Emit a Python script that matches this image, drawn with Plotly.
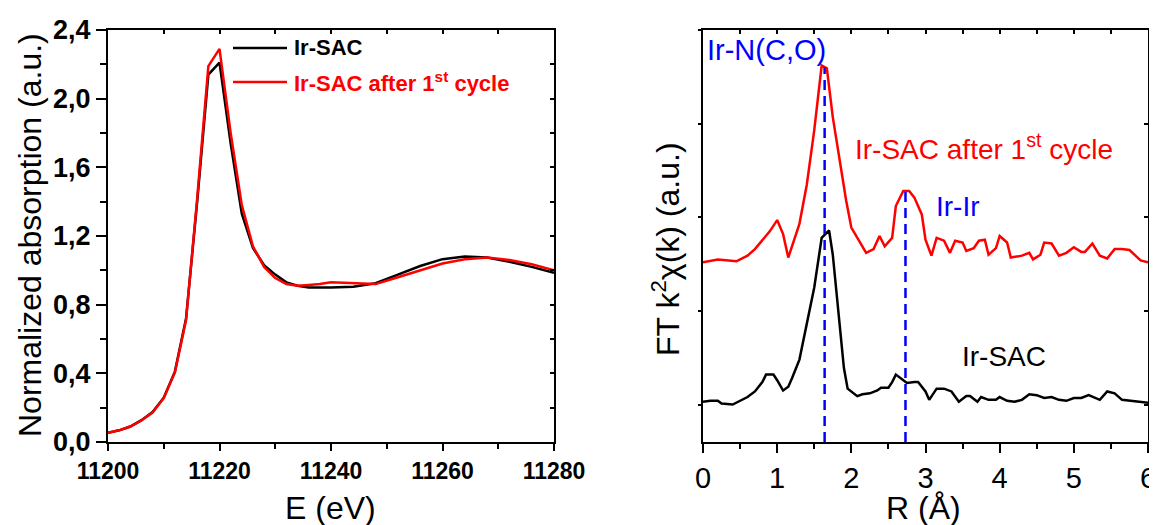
import numpy as np
import plotly.graph_objects as go

# ---------------- Data: XANES (left panel) ----------------
E_black = [11200, 11202, 11204, 11206, 11208, 11210, 11212, 11214, 11216, 11218, 11220,
           11222, 11224, 11226, 11228, 11230, 11232, 11234, 11236, 11240, 11244, 11248,
           11252, 11256, 11260, 11264, 11268, 11272, 11276, 11280]
mu_black = [0.053, 0.068, 0.090, 0.127, 0.175, 0.258, 0.410, 0.720, 1.400, 2.140, 2.210,
            1.740, 1.330, 1.130, 1.030, 0.975, 0.930, 0.910, 0.900, 0.900, 0.905, 0.925,
            0.975, 1.025, 1.065, 1.080, 1.075, 1.050, 1.020, 0.985]
E_red = [11200, 11202, 11204, 11206, 11208, 11210, 11212, 11214, 11216, 11218, 11220,
         11222, 11224, 11226, 11228, 11230, 11232, 11234, 11236, 11238, 11240, 11244,
         11248, 11252, 11256, 11260, 11264, 11268, 11272, 11276, 11280]
mu_red = [0.053, 0.068, 0.090, 0.125, 0.172, 0.255, 0.405, 0.710, 1.420, 2.190, 2.290,
          1.800, 1.380, 1.140, 1.020, 0.955, 0.920, 0.910, 0.915, 0.920, 0.930, 0.925,
          0.920, 0.960, 1.000, 1.040, 1.065, 1.075, 1.060, 1.035, 1.000]

left_xticks = [11200, 11220, 11240, 11260, 11280]
left_xticklabels = ["11200", "11220", "11240", "11260", "11280"]
left_yticks = [0.0, 0.4, 0.8, 1.2, 1.6, 2.0, 2.4]
left_yticklabels = ["0,0", "0,4", "0,8", "1,2", "1,6", "2,0", "2,4"]

# ---------------- Data: FT-EXAFS (right panel) ----------------
R_black = [0.0, 0.1, 0.2, 0.25, 0.4, 0.5, 0.6, 0.7, 0.8, 0.85, 0.95, 1.0, 1.08, 1.15, 1.2,
           1.3, 1.4, 1.5, 1.6, 1.65, 1.7, 1.75, 1.8, 1.85, 1.9, 1.95, 2.0, 2.08, 2.15, 2.25,
           2.35, 2.4, 2.5, 2.55, 2.6, 2.65, 2.75, 2.85, 2.9, 3.0, 3.05, 3.15, 3.25, 3.35,
           3.45, 3.55, 3.6, 3.7, 3.75, 3.85, 3.95, 4.0, 4.1, 4.2, 4.3, 4.4, 4.5, 4.6, 4.7,
           4.8, 4.9, 5.0, 5.1, 5.2, 5.3, 5.35, 5.45, 5.55, 5.65, 5.8, 5.9, 6.0]
ft_black = [0.03, 0.04, 0.04, 0.01, 0.00, 0.04, 0.08, 0.14, 0.24, 0.32, 0.32, 0.26, 0.15,
            0.19, 0.28, 0.48, 0.85, 1.25, 1.78, 1.82, 1.86, 1.60, 1.21, 0.75, 0.39, 0.17,
            0.14, 0.09, 0.11, 0.12, 0.15, 0.18, 0.18, 0.24, 0.32, 0.29, 0.23, 0.24, 0.24,
            0.14, 0.05, 0.17, 0.17, 0.14, 0.03, 0.09, 0.09, 0.03, 0.08, 0.05, 0.05, 0.08,
            0.04, 0.03, 0.05, 0.11, 0.10, 0.07, 0.08, 0.05, 0.04, 0.07, 0.07, 0.10, 0.07,
            0.05, 0.14, 0.12, 0.05, 0.04, 0.03, 0.02]
R_red = [0.0, 0.2, 0.45, 0.6, 0.7, 0.8, 0.9, 1.0, 1.08, 1.15, 1.25, 1.3, 1.4, 1.5, 1.6,
         1.67, 1.75, 1.85, 1.93, 2.0, 2.1, 2.2, 2.3, 2.38, 2.45, 2.55, 2.6, 2.7, 2.78, 2.85,
         2.95, 3.0, 3.08, 3.15, 3.25, 3.33, 3.4, 3.5, 3.55, 3.65, 3.72, 3.8, 3.85, 3.95,
         4.0, 4.1, 4.15, 4.3, 4.4, 4.45, 4.55, 4.6, 4.7, 4.8, 4.9, 5.0, 5.1, 5.15, 5.25,
         5.35, 5.45, 5.55, 5.65, 5.75, 5.9, 6.0]
ft_red = [1.52, 1.55, 1.53, 1.59, 1.66, 1.76, 1.85, 1.97, 1.82, 1.57, 1.82, 1.93, 2.35,
          2.93, 3.62, 3.59, 3.07, 2.57, 2.18, 1.89, 1.76, 1.62, 1.66, 1.80, 1.69, 1.78,
          2.12, 2.28, 2.28, 2.21, 2.03, 1.76, 1.59, 1.78, 1.75, 1.62, 1.75, 1.73, 1.64,
          1.67, 1.75, 1.76, 1.60, 1.67, 1.80, 1.73, 1.57, 1.59, 1.62, 1.55, 1.60, 1.73,
          1.72, 1.59, 1.62, 1.68, 1.63, 1.63, 1.72, 1.59, 1.56, 1.66, 1.66, 1.65, 1.54, 1.52]

peak_R = [1.64, 2.73]
peak_labels = ["Ir-N(C,O)", "Ir-Ir"]
right_xticks = [0, 1, 2, 3, 4, 5, 6]
right_xticklabels = ["0", "1", "2", "3", "4", "5", "6"]

# ---------------- Layout geometry (window pixels -> paper) ----------------
W, H = 1157, 525
OX, OY = 8, 8   # page body margin: the figure div starts 8px in from the window edge
def px(x): return (x - OX) / W
def py(y): return 1 - (y - OY) / H

FONT = "Liberation Sans, Arial, sans-serif"
BLACK = "#000000"
RED = "#ff0000"
BLUE = "#0000ff"

fig = go.Figure()

fig.add_trace(go.Scatter(x=E_black, y=mu_black, mode="lines", line=dict(color=BLACK, width=2.5),
                         name="Ir-SAC", xaxis="x", yaxis="y", showlegend=False))
fig.add_trace(go.Scatter(x=E_red, y=mu_red, mode="lines", line=dict(color=RED, width=2.5),
                         name="Ir-SAC after 1st cycle", xaxis="x", yaxis="y", showlegend=False))

fig.add_trace(go.Scatter(x=R_black, y=ft_black, mode="lines", line=dict(color=BLACK, width=2.5),
                         xaxis="x2", yaxis="y2", showlegend=False))
fig.add_trace(go.Scatter(x=R_red, y=ft_red, mode="lines", line=dict(color=RED, width=2.5),
                         xaxis="x2", yaxis="y2", showlegend=False))

y2_range = [-0.4, 4.0]
for r in peak_R:
    top = float(np.interp(r, R_red, ft_red))
    fig.add_trace(go.Scatter(x=[r, r], y=[y2_range[0], top], mode="lines",
                             line=dict(color=BLUE, width=2.5, dash="10px,6px"),
                             xaxis="x2", yaxis="y2", showlegend=False))

xd1 = [px(108), px(554)]
xd2 = [px(703), px(1148)]
yd = [py(442), py(30)]

common = dict(showgrid=False, zeroline=False, automargin=False)
mirror_ticks = dict(ticks="inside", ticklen=4, tickwidth=1.5, tickcolor=BLACK,
                    showticklabels=False, showline=False, **common)

fig.update_layout(
    width=W, height=H,
    margin=dict(l=0, r=0, t=0, b=0, pad=0, autoexpand=False),
    paper_bgcolor="white", plot_bgcolor="white",
    showlegend=False,
    xaxis=dict(domain=xd1, anchor="y", range=[11200, 11280], tickvals=left_xticks,
               ticktext=left_xticklabels, ticks="outside", ticklen=7, tickwidth=1.5,
               tickcolor=BLACK, minor=dict(dtick=10, tick0=11200, ticks="outside", ticklen=5,
                                          tickwidth=1.5, tickcolor=BLACK),
               showline=True, linecolor=BLACK, linewidth=2, mirror=True,
               tickfont=dict(family=FONT, size=23, color=BLACK, weight="bold"), **common),
    yaxis=dict(domain=yd, anchor="x", range=[0, 2.4], tickvals=left_yticks,
               ticktext=left_yticklabels, ticks="outside", ticklen=10, tickwidth=1.5,
               tickcolor=BLACK, minor=dict(dtick=0.2, tick0=0, ticks="outside", ticklen=6,
                                          tickwidth=1.5, tickcolor=BLACK),
               showline=True, linecolor=BLACK, linewidth=2, mirror=True,
               tickfont=dict(family=FONT, size=27, color=BLACK, weight="bold"), **common),
    xaxis3=dict(overlaying="x", anchor="y", side="top", range=[11200, 11280], dtick=10,
                tick0=11200, **mirror_ticks),
    yaxis3=dict(overlaying="y", anchor="x", side="right", range=[0, 2.4], dtick=0.2, tick0=0,
                **mirror_ticks),
    xaxis2=dict(domain=xd2, anchor="y2", range=[0, 6], tickvals=right_xticks,
                ticktext=right_xticklabels, ticks="outside", ticklen=9, tickwidth=1.5,
                tickcolor=BLACK, minor=dict(dtick=0.5, tick0=0, ticks="outside", ticklen=5,
                                           tickwidth=1.5, tickcolor=BLACK),
                showline=True, linecolor=BLACK, linewidth=2, mirror=True,
                tickfont=dict(family=FONT, size=29, color=BLACK), **common),
    yaxis2=dict(domain=yd, anchor="x2", range=y2_range, dtick=1, tick0=0,
                ticks="outside", ticklen=3, tickwidth=1.5, tickcolor=BLACK,
                showticklabels=False, showline=True, linecolor=BLACK, linewidth=2,
                mirror=True, **common),
    xaxis4=dict(overlaying="x2", anchor="y2", side="top", range=[0, 6], dtick=0.5, tick0=0,
                **mirror_ticks),
    yaxis4=dict(overlaying="y2", anchor="x2", side="right", range=y2_range, dtick=1, tick0=0,
                **mirror_ticks),
)

# invisible traces so the mirror-tick axes get drawn
fig.add_trace(go.Scatter(x=[11200], y=[0], mode="markers", marker=dict(opacity=0),
                         xaxis="x3", yaxis="y3", showlegend=False, hoverinfo="skip"))
fig.add_trace(go.Scatter(x=[0], y=[0], mode="markers", marker=dict(opacity=0),
                         xaxis="x4", yaxis="y4", showlegend=False, hoverinfo="skip"))

ann = []
# left panel axis titles
ann.append(dict(text="Normalized absorption (a.u.)", x=px(30), y=py(235), textangle=-90,
                font=dict(family=FONT, size=32, color=BLACK)))
ann.append(dict(text="E (eV)", x=px(330), y=py(508),
                font=dict(family=FONT, size=32, color=BLACK)))
# right panel axis titles
ann.append(dict(text="FT k<sup>2</sup>χ(k) (a.u.)", x=px(666), y=py(249), textangle=-90,
                font=dict(family=FONT, size=32, color=BLACK)))
ann.append(dict(text="R (Å)", x=px(923), y=py(508),
                font=dict(family=FONT, size=32, color=BLACK)))
# manual legend (left panel)
ann.append(dict(text="<b>Ir-SAC</b>", x=px(292), y=py(48), xanchor="left",
                font=dict(family=FONT, size=22, color=BLACK)))
ann.append(dict(text="<b>Ir-SAC after 1<sup>st</sup> cycle</b>", x=px(292), y=py(82),
                xanchor="left", font=dict(family=FONT, size=22, color=RED)))
# right-panel labels
ann.append(dict(text=peak_labels[0], x=px(705), y=py(50), xanchor="left",
                font=dict(family=FONT, size=29, color=BLUE)))
ann.append(dict(text=peak_labels[1], x=px(934), y=py(206), xanchor="left",
                font=dict(family=FONT, size=28, color=BLUE)))
ann.append(dict(text="Ir-SAC after 1<sup>st</sup> cycle", x=px(853), y=py(147), xanchor="left",
                font=dict(family=FONT, size=28, color=RED)))
ann.append(dict(text="Ir-SAC", x=px(960), y=py(356), xanchor="left",
                font=dict(family=FONT, size=28, color=BLACK)))
for a in ann:
    a.setdefault("xanchor", "center")
    a.update(xref="paper", yref="paper", yanchor="middle", showarrow=False)
fig.update_layout(annotations=ann)

fig.add_shape(type="line", xref="paper", yref="paper", x0=px(233), x1=px(287), y0=py(48), y1=py(48),
              line=dict(color=BLACK, width=2.5))
fig.add_shape(type="line", xref="paper", yref="paper", x0=px(233), x1=px(287), y0=py(82), y1=py(82),
              line=dict(color=RED, width=2.5))

fig.write_html("out.html")
